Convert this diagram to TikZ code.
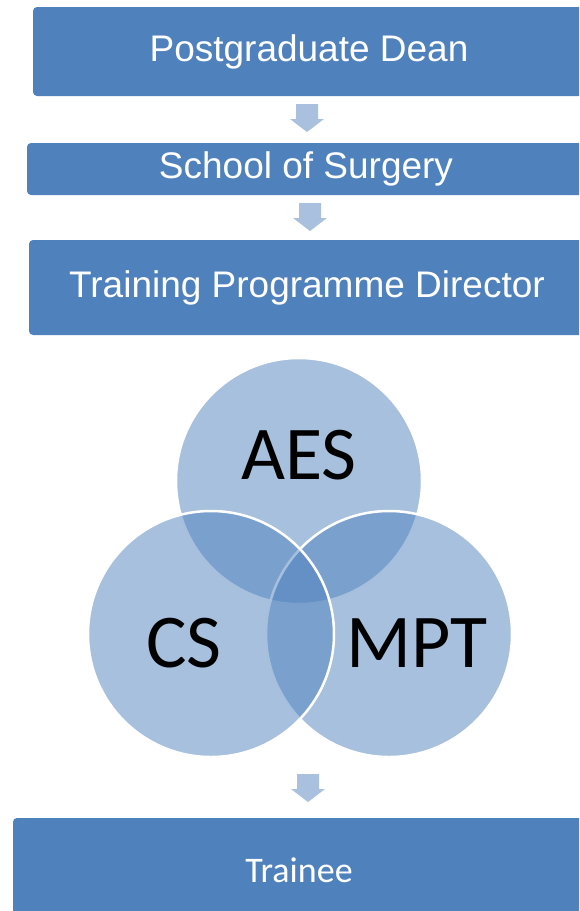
\documentclass[tikz,border=0pt]{standalone}
\usepackage{fontspec}
\setmainfont{Liberation Sans}
\newfontfamily\calibri{Carlito}
\usetikzlibrary{positioning}

\definecolor{boxblue}{HTML}{4F81BD}
\definecolor{arrowblue}{HTML}{A9C0DE}

\begin{document}
\begin{tikzpicture}[x=1pt, y=-1pt,
    level/.style={rectangle, rounded corners=4pt, fill=boxblue, text=white, inner sep=0pt,
                  font=\fontsize{37}{40}\selectfont},
    ring/.style={circle, minimum size=246pt, fill=boxblue, fill opacity=0.5,
                 draw=white, draw opacity=1, line width=2.5pt},
    ringtext/.style={inner sep=0pt, font=\calibri\fontsize{76}{80}\selectfont}
]

\useasboundingbox (0,0) rectangle (579,911);
\clip (0,0) rectangle (579,911);

% Chain of responsibility
\node[level, minimum width=552pt, minimum height=89pt] (dean) at (309,51.5) {Postgraduate Dean};
\node[level, minimum width=558pt, minimum height=52pt] (school) at (306,169) {School of Surgery};
\node[level, minimum width=556pt, minimum height=95pt] (tpd) at (307,287.5) {Training Programme Director};

% Block arrows between levels
\foreach \ax/\ay in {307/104, 310/203, 308/774}
  \fill[arrowblue] (\ax-11,\ay) -- ++(22,0) -- ++(0,15) -- ++(6,0) -- (\ax,\ay+28)
      -- (\ax-17,\ay+15) -- ++(6,0) -- cycle;

% Supervisors
\node[ring] (aes) at (299,481) {};
\node[ring] (mpt) at (389,634) {};
\node[ring] (cs) at (211,634) {};

\node[ringtext] (aeslabel) at (299,455) {AES};
\node[ringtext] (cslabel) at (184,643) {CS};
\node[ringtext] (mptlabel) at (417,643) {MPT};

% Trainee
\node[level, minimum width=572pt, minimum height=104pt, font=\calibri\fontsize{36}{40}\selectfont]
    (trainee) at (299,870) {Trainee};

\end{tikzpicture}
\end{document}
